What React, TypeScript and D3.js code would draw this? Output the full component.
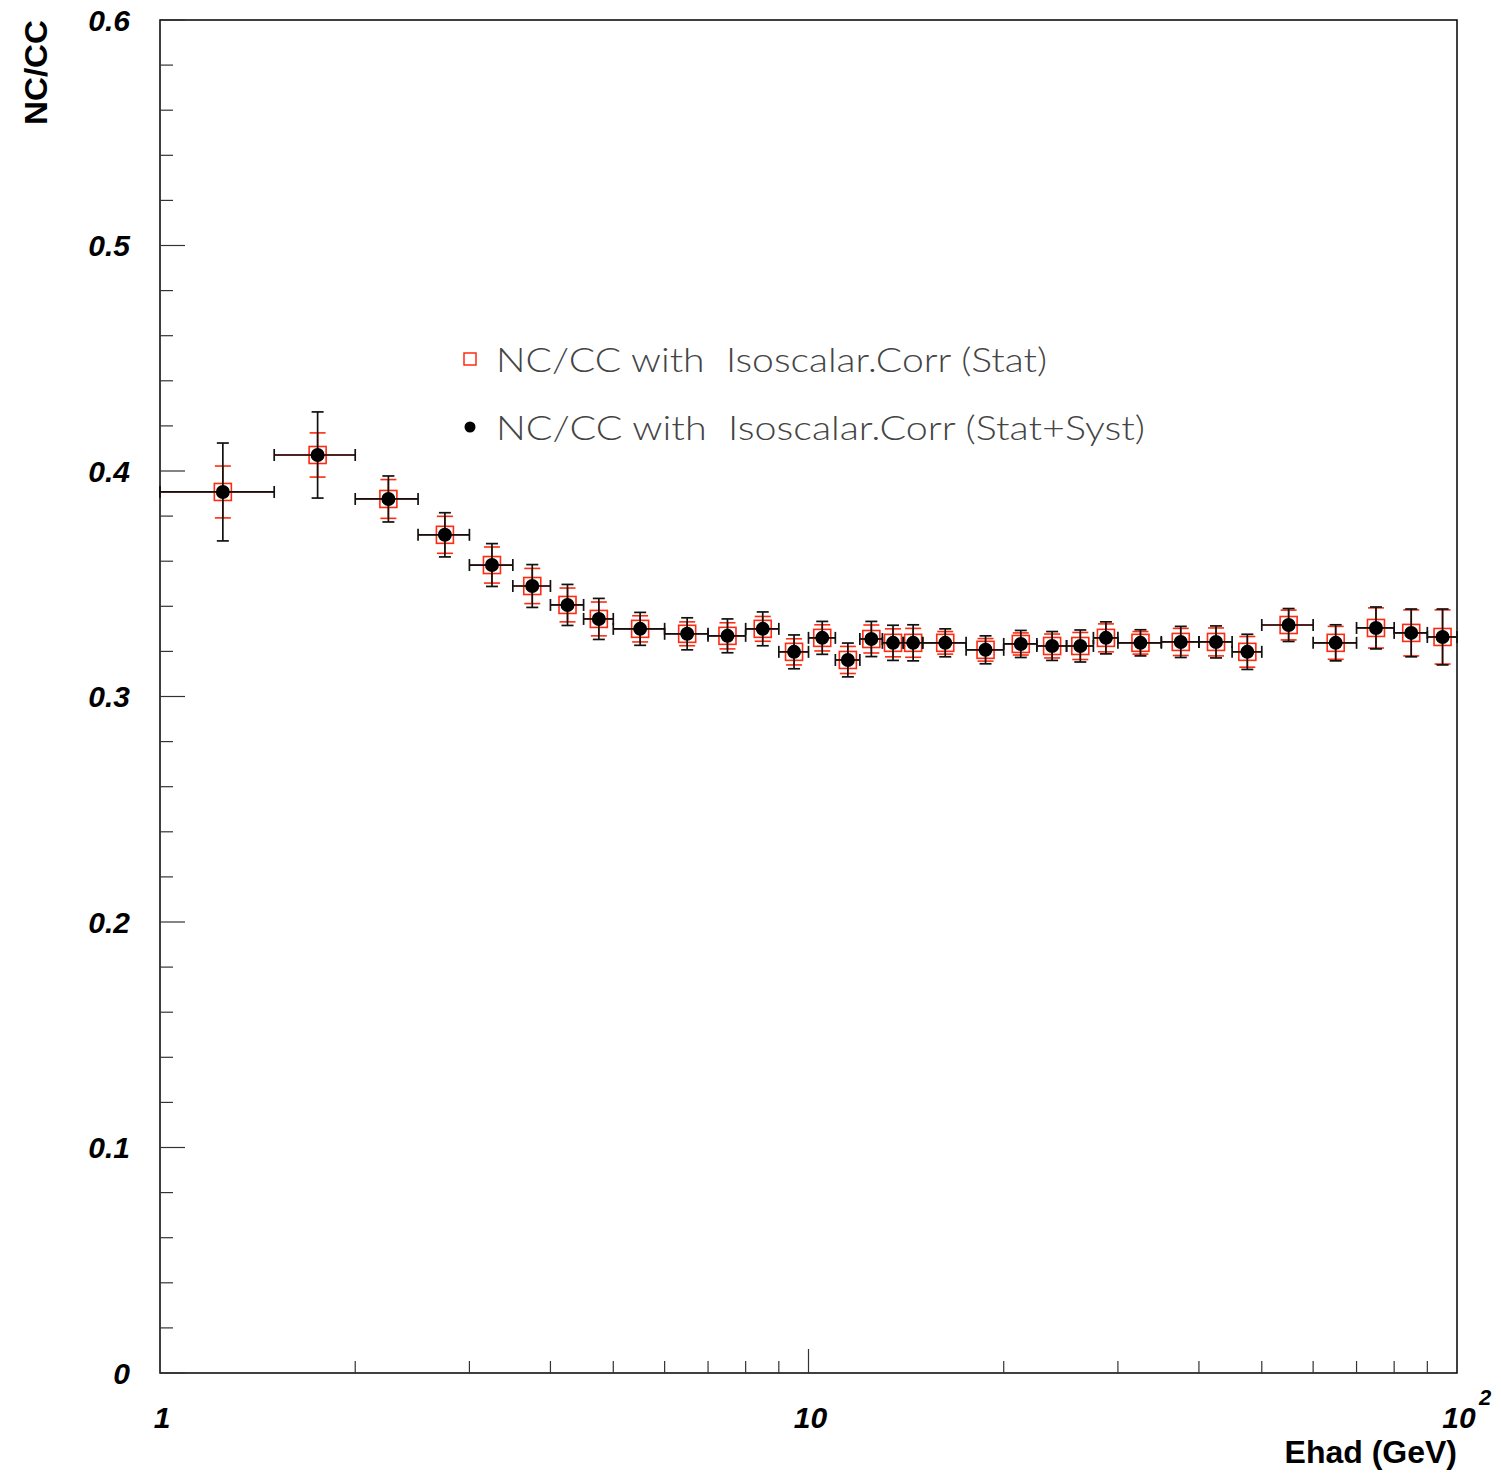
import React from "react";
import * as d3 from "d3";

const binEdges = [1, 1.5, 2, 2.5, 3, 3.5, 4, 4.5, 5, 6, 7, 8, 9, 10, 11, 12, 13, 14, 15, 17.5, 20, 22.5, 25, 27.5, 30, 35, 40, 45, 50, 60, 70, 80, 90, 100];
const ratio = [0.3907, 0.4071, 0.3876, 0.3717, 0.3583, 0.3490, 0.3406, 0.3344, 0.3300, 0.3278, 0.3269, 0.3300, 0.3198, 0.3260, 0.3162, 0.3255, 0.3238, 0.3238, 0.3238, 0.3207, 0.3233, 0.3224, 0.3224, 0.3260, 0.3238, 0.3242, 0.3242, 0.3198, 0.3317, 0.3238, 0.3304, 0.3282, 0.3264];
const totErr = [0.0217, 0.0191, 0.0102, 0.0098, 0.0095, 0.0095, 0.0091, 0.0091, 0.0073, 0.0071, 0.0075, 0.0075, 0.0075, 0.0073, 0.0075, 0.0078, 0.0078, 0.0080, 0.0062, 0.0062, 0.0060, 0.0064, 0.0071, 0.0071, 0.0058, 0.0069, 0.0071, 0.0078, 0.0073, 0.0080, 0.0093, 0.0106, 0.0124];
const statErr = [0.0115, 0.0098, 0.0086, 0.0082, 0.0080, 0.0078, 0.0075, 0.0075, 0.0058, 0.0053, 0.0058, 0.0055, 0.0058, 0.0058, 0.0060, 0.0062, 0.0062, 0.0064, 0.0050, 0.0050, 0.0049, 0.0053, 0.0060, 0.0062, 0.0050, 0.0060, 0.0062, 0.0068, 0.0066, 0.0073, 0.0089, 0.0102, 0.0120];
const yTicks = [0, 0.1, 0.2, 0.3, 0.4, 0.5, 0.6];
const legendLabels = ["NC/CC with  Isoscalar.Corr (Stat)", "NC/CC with  Isoscalar.Corr (Stat+Syst)"];

const L = 160, R = 1457, T = 20, B = 1373;
const RED = "#ff2a10";

export default function App() {
  const x = d3.scaleLog().domain([1, 100]).range([L, R]);
  const y = d3.scaleLinear().domain([0, 0.6]).range([B, T]);
  const minorY = d3.range(0, 0.6001, 0.02);
  const minorX: number[] = [];
  [1, 10].forEach((dec) => { for (let k = 2; k <= 9; k++) minorX.push(dec * k); });

  const points = ratio.map((v, i) => {
    const lo = binEdges[i], hi = binEdges[i + 1];
    return { lo, hi, c: (lo + hi) / 2, v, s: statErr[i], t: totErr[i] };
  });

  const tickFont = { fontFamily: "'Liberation Sans', Arial, sans-serif", fontWeight: 700, fontStyle: "italic" as const, fontSize: 30 };

  return (
    <svg width={1501} height={1476} style={{ position: "absolute", left: 0, top: 0, background: "#fff" }}>
      <rect x={0} y={0} width={1501} height={1476} fill="#fff" />
      <rect x={L} y={T} width={R - L} height={B - T} fill="none" stroke="#000" strokeWidth={1.5} />
      {minorY.map((t, i) => {
        const major = i % 5 === 0;
        return <line key={"ym" + i} x1={L} x2={L + (major ? 25 : 13)} y1={y(t)} y2={y(t)} stroke="#333" strokeWidth={1.2} />;
      })}
      {yTicks.map((t) => (
        <text key={"yl" + t} x={130} y={y(t)} dy="0.36em" textAnchor="end" {...tickFont}>{t === 0 ? "0" : t.toFixed(1)}</text>
      ))}
      {minorX.map((t) => (
        <line key={"xm" + t} x1={x(t)} x2={x(t)} y1={B} y2={B - 12} stroke="#333" strokeWidth={1.2} />
      ))}
      <line x1={x(10)} x2={x(10)} y1={B} y2={B - 24} stroke="#333" strokeWidth={1.2} />
      <text x={x(1) + 2} y={1428} textAnchor="middle" {...tickFont}>1</text>
      <text x={x(10) + 2} y={1428} textAnchor="middle" {...tickFont}>10</text>
      <text x={x(100) + 2} y={1428} textAnchor="middle" {...tickFont}>10</text>
      <text x={x(100) + 28} y={1405} textAnchor="middle" {...tickFont} fontSize={22}>2</text>
      <text x={1457} y={1463} textAnchor="end" fontFamily="'Liberation Sans', Arial, sans-serif" fontWeight={700} fontSize={32}>Ehad (GeV)</text>
      <text transform="translate(47,20) rotate(-90)" textAnchor="end" fontFamily="'Liberation Sans', Arial, sans-serif" fontWeight={700} fontSize={32} textLength={105} lengthAdjust="spacingAndGlyphs">NC/CC</text>

      {points.map((p, i) => {
        const cx = x(p.c), cy = y(p.v);
        const yt = y(p.v + p.s), yb = y(p.v - p.s);
        return (
          <g key={"r" + i} stroke={RED} strokeWidth={1.6} fill="none">
            <line x1={cx} x2={cx} y1={yt} y2={yb} />
            <line x1={cx - 8} x2={cx + 8} y1={yt} y2={yt} />
            <line x1={cx - 8} x2={cx + 8} y1={yb} y2={yb} />
            <line x1={x(p.lo)} x2={x(p.hi)} y1={cy} y2={cy} />
            <rect x={cx - 8.5} y={cy - 8.5} width={17} height={17} fill="none" />
          </g>
        );
      })}
      {points.map((p, i) => {
        const cx = x(p.c), cy = y(p.v);
        const yt = y(p.v + p.t), yb = y(p.v - p.t);
        const x0 = x(p.lo), x1 = x(p.hi);
        return (
          <g key={"b" + i} stroke="#111" strokeWidth={1.7} fill="none">
            <line x1={cx} x2={cx} y1={yt} y2={yb} />
            <line x1={cx - 6} x2={cx + 6} y1={yt} y2={yt} />
            <line x1={cx - 6} x2={cx + 6} y1={yb} y2={yb} />
            <line x1={x0} x2={x1} y1={cy} y2={cy} />
            <line x1={x0} x2={x0} y1={cy - 6} y2={cy + 6} />
            <line x1={x1} x2={x1} y1={cy - 6} y2={cy + 6} />
            <circle cx={cx} cy={cy} r={7} fill="#000" stroke="none" />
          </g>
        );
      })}

      <rect x={464} y={353} width={12} height={12} fill="none" stroke={RED} strokeWidth={1.5} />
      <circle cx={470} cy={427} r={5.5} fill="#000" />
      <text x={496} y={372} fontFamily="Lato, 'DejaVu Sans', sans-serif" fontWeight={300} fontSize={34} fill="#444" style={{ whiteSpace: "pre" }} textLength={551} lengthAdjust="spacingAndGlyphs">{legendLabels[0]}</text>
      <text x={496} y={440} fontFamily="Lato, 'DejaVu Sans', sans-serif" fontWeight={300} fontSize={34} fill="#444" style={{ whiteSpace: "pre" }} textLength={649} lengthAdjust="spacingAndGlyphs">{legendLabels[1]}</text>
    </svg>
  );
}
